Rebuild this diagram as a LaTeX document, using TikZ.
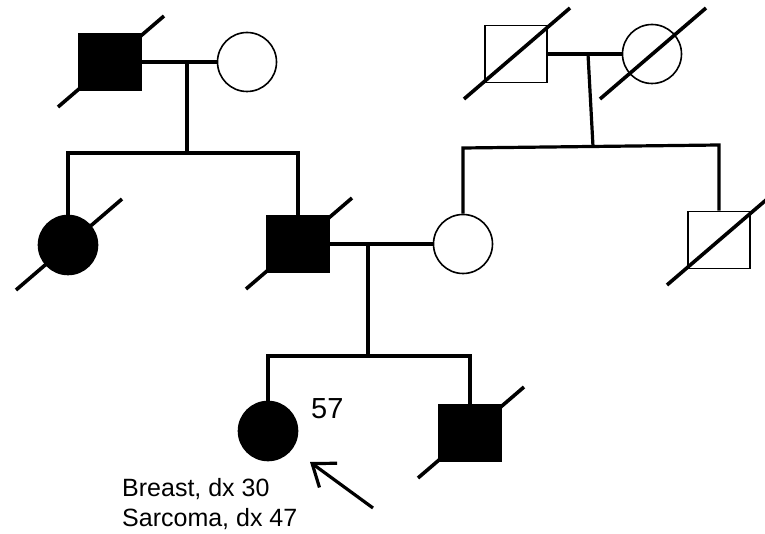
\documentclass[tikz,border=0pt]{standalone}
\usepackage{fontspec}
\setmainfont{Liberation Sans}
\usetikzlibrary{arrows.meta,calc}
\tikzset{
  male/.style={draw, rectangle, minimum width=62pt, minimum height=57pt, line width=1.6pt, inner sep=0pt},
  female/.style={draw, circle, minimum size=59pt, line width=1.6pt, inner sep=0pt},
  affected/.style={fill=black},
  link/.style={line width=3.2pt},
  deadmark/.style={line width=3.6pt}
}
\begin{document}
\begin{tikzpicture}[x=1pt, y=-1pt]
                \useasboundingbox (0,0) rectangle (765,534);
                \node[male, affected] (gfaP) at (110,62) {};
                \node[female] (gmoP) at (247,62) {};
                \node[female, affected] (aunt) at (68,245) {};
                \node[male, affected] (father) at (298,244) {};
                \node[female] (mother) at (463,244) {};
                \node[male] (gfaM) at (516,54) {};
                \node[female] (gmoM) at (652,54) {};
                \node[male] (uncle) at (719,240) {};
                \node[female, affected] (proband) at (268,431) {};
                \node[male, affected] (brother) at (470,433) {};
                \coordinate (pmarr) at (187,62);
                \coordinate (pdesc) at (187,153);
                \coordinate (mmarr) at (588,54);
                \coordinate (msibL) at (463,148);
                \coordinate (mdesc) at (593,146.5);
                \coordinate (msibR) at (719,145);
                \coordinate (cmarr) at (368,244);
                \coordinate (cdesc) at (368,356);
                \draw[link] (gfaP) -- (gmoP);
                \draw[link] (pmarr) -- (pdesc);
                \draw[link] (aunt.north) |- (pdesc) -| (father.north);
                \draw[link] (gfaM) -- (gmoM);
                \draw[link] (mmarr) -- (mdesc);
                \draw[link] (mother.north) -- (msibL) -- (msibR) -- (uncle.north);
                \draw[link] (father) -- (mother);
                \draw[link] (cmarr) -- (cdesc);
                \draw[link] (proband.north) |- (cdesc) -| (brother.north);
                \foreach \p in {gfaP, aunt, father, gfaM, gmoM, uncle, brother}
                    \draw[deadmark] ($(\p)+(-52,45)$) -- ($(\p)+(54,-46)$);
                \node[anchor=base west, inner sep=0pt, font=\fontsize{29}{34}\selectfont] (age) at (311,418) {57};
                \node[anchor=north west, inner sep=0pt, align=left, font=\fontsize{25}{30}\selectfont] (dx) at (122,478) {Breast, dx 30\\Sarcoma, dx 47};
                \coordinate (arrowtail) at (373,508);
                \coordinate (arrowtip) at (310,462);
                \draw[link, -{Straight Barb[length=20pt, width=30pt]}] (arrowtail) -- (arrowtip);
            \end{tikzpicture}
\end{document}
